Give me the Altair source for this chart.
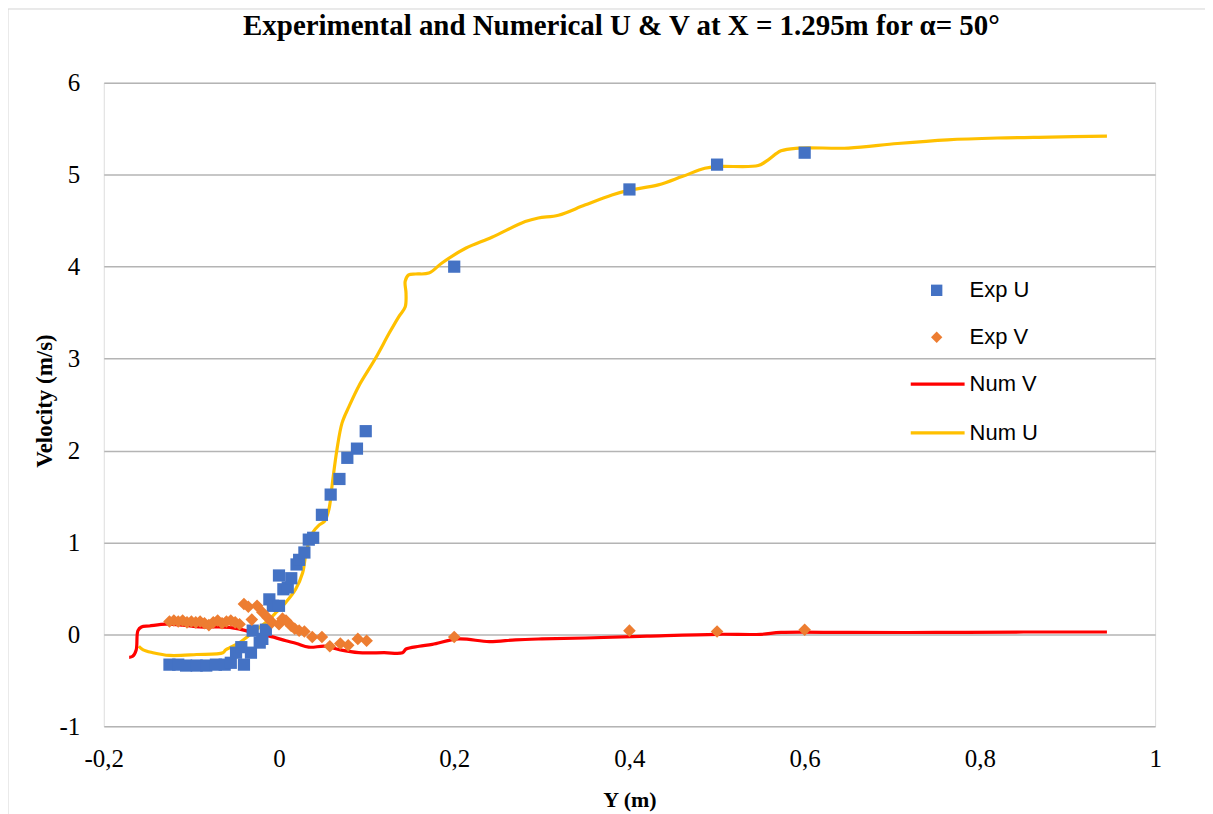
import altair as alt
import pandas as pd

# ---------------- data ----------------
exp_u_x = [-0.125, -0.115, -0.106, -0.094, -0.083, -0.072, -0.062, -0.055, -0.049, -0.043,
           -0.04, -0.032, -0.03, -0.022, -0.019, -0.015, -0.011, -0.007, 0.0, 0.0,
           0.005, 0.01, 0.014, 0.02, 0.023, 0.029, 0.034, 0.039, 0.049, 0.059,
           0.069, 0.078, 0.089, 0.099, 0.2, 0.4, 0.5, 0.6]
exp_u_y = [-0.33, -0.33, -0.34, -0.34, -0.34, -0.33, -0.33, -0.31, -0.2, -0.14,
           -0.33, -0.2, 0.04, -0.09, -0.05, 0.05, 0.38, 0.31, 0.64, 0.31,
           0.49, 0.51, 0.61, 0.76, 0.81, 0.89, 1.03, 1.05, 1.30, 1.52,
           1.69, 1.92, 2.02, 2.21, 4.0, 4.84, 5.11, 5.24]

exp_v_x = [-0.125, -0.12, -0.115, -0.11, -0.105, -0.1, -0.095, -0.09, -0.085, -0.08,
           -0.075, -0.07, -0.065, -0.06, -0.055, -0.05, -0.045, -0.04, -0.035, -0.031,
           -0.025, -0.019, -0.013, -0.008, 0.0, 0.004, 0.008, 0.014, 0.018, 0.023,
           0.029, 0.038, 0.049, 0.058, 0.07, 0.079, 0.09, 0.1, 0.2, 0.4, 0.5, 0.6]
exp_v_y = [0.14, 0.15, 0.14, 0.15, 0.13, 0.14, 0.13, 0.14, 0.12, 0.10,
           0.13, 0.15, 0.12, 0.14, 0.15, 0.13, 0.11, 0.33, 0.30, 0.16,
           0.31, 0.24, 0.18, 0.13, 0.11, 0.17, 0.15, 0.09, 0.06, 0.04,
           0.03, -0.03, -0.03, -0.13, -0.10, -0.12, -0.05, -0.07, -0.03, 0.04, 0.03, 0.05]

num_v_x = [-0.171, -0.167, -0.163, -0.161, -0.157, -0.148, -0.129, -0.11, -0.091, -0.07,
           -0.053, -0.038, -0.025, -0.011, 0.008, 0.02, 0.034, 0.053, 0.07, 0.091,
           0.12, 0.141, 0.145, 0.16, 0.175, 0.205, 0.24, 0.27, 0.3, 0.35,
           0.42, 0.5, 0.55, 0.573, 0.65, 0.75, 0.85, 0.945]
num_v_y = [-0.25, -0.24, -0.17, 0.04, 0.08, 0.09, 0.11, 0.10, 0.08, 0.08,
           0.07, 0.04, 0.0, -0.02, -0.07, -0.10, -0.14, -0.13, -0.17, -0.20,
           -0.20, -0.20, -0.16, -0.13, -0.11, -0.05, -0.08, -0.06, -0.05, -0.04,
           -0.02, 0.0, 0.0, 0.02, 0.02, 0.02, 0.025, 0.025]

num_u_x = [-0.16, -0.155, -0.144, -0.125, -0.094, -0.064, -0.061, -0.057, -0.045, -0.03,
           -0.015, -0.003, 0.008, 0.019, 0.027, 0.031, 0.038, 0.046, 0.052, 0.057,
           0.061, 0.066, 0.072, 0.08, 0.091, 0.11, 0.126, 0.137, 0.144, 0.145,
           0.144, 0.148, 0.156, 0.171, 0.186, 0.213, 0.243, 0.281, 0.296, 0.319,
           0.349, 0.38, 0.399, 0.433, 0.46, 0.486, 0.501, 0.547, 0.558, 0.573,
           0.593, 0.65, 0.706, 0.763, 0.82, 0.88, 0.945]
num_u_y = [-0.13, -0.17, -0.2, -0.23, -0.22, -0.2, -0.17, -0.15, -0.09, 0.02,
           0.13, 0.24, 0.35, 0.49, 0.67, 0.89, 1.1, 1.19, 1.23, 1.36,
           1.65, 2.0, 2.3, 2.48, 2.7, 3.0, 3.28, 3.46, 3.56, 3.71,
           3.84, 3.91, 3.92, 3.93, 4.04, 4.2, 4.32, 4.49, 4.53, 4.56,
           4.67, 4.78, 4.83, 4.89, 4.98, 5.07, 5.09, 5.1, 5.16, 5.26,
           5.29, 5.29, 5.34, 5.38, 5.4, 5.41, 5.42]

series_names = ["Exp U", "Exp V", "Num V", "Num U"]
series_colors = ["#4472C4", "#ED7D31", "#FF0000", "#FFC000"]
x_ticks = [-0.2, 0, 0.2, 0.4, 0.6, 0.8, 1]
y_ticks = [-1, 0, 1, 2, 3, 4, 5, 6]

TITLE = "Experimental and Numerical U & V at X = 1.295m for \u03b1= 50\u00b0"

# ---------------- chart ----------------
W, H = 1054, 645
SERIF = "Liberation Serif"
SANS = "Liberation Sans"


def frame(xs, ys, name):
    return pd.DataFrame({"x": xs, "y": ys, "i": list(range(len(xs))), "series": name})


xscale = alt.Scale(domain=[-0.2, 1], nice=False, zero=False)
yscale = alt.Scale(domain=[-1, 6], nice=False, zero=False)

xaxis = alt.Axis(
    values=x_ticks, grid=False, ticks=False, domain=False, labelFlush=False,
    labelFont=SERIF, labelFontSize=25, labelColor="#000000", labelPadding=20,
    labelExpr="replace(toString(round(datum.value*10)/10), '.', ',')",
    title="Y (m)", titleFont=SERIF, titleFontSize=22, titleFontWeight="bold",
    titleColor="#000000", titleX=W / 2, titleY=73, titleBaseline="middle",
)
yaxis = alt.Axis(
    values=y_ticks, grid=True, gridColor="#b4b4b4", gridWidth=1.5,
    ticks=False, domain=False, labelFlush=False,
    labelFont=SERIF, labelFontSize=25, labelColor="#000000", labelPadding=24,
    labelExpr="toString(datum.value)",
    title="Velocity (m/s)", titleFont=SERIF, titleFontSize=23, titleFontWeight="bold",
    titleColor="#000000", titleX=-59, titleY=H / 2 - 4, titleBaseline="middle",
)

base_x = alt.X("x:Q", scale=xscale, axis=xaxis)
base_y = alt.Y("y:Q", scale=yscale, axis=yaxis)

line_u = alt.Chart(frame(num_u_x, num_u_y, "Num U")).mark_line(
    color=series_colors[3], strokeWidth=3.2, interpolate="catmull-rom"
).encode(x=base_x, y=base_y, order="i:Q")

line_v = alt.Chart(frame(num_v_x, num_v_y, "Num V")).mark_line(
    color=series_colors[2], strokeWidth=3.2, interpolate="catmull-rom"
).encode(x=base_x, y=base_y, order="i:Q")

pts_u = alt.Chart(frame(exp_u_x, exp_u_y, "Exp U")).mark_square(
    color=series_colors[0], size=150, opacity=1
).encode(x=base_x, y=base_y)

pts_v = alt.Chart(frame(exp_v_x, exp_v_y, "Exp V")).mark_point(
    shape="diamond", filled=True, color=series_colors[1], size=160, opacity=1
).encode(x=base_x, y=base_y)

# outer chart frame (decoration)
border = alt.Chart(pd.DataFrame({"k": [0]})).mark_rect(
    fillOpacity=0, stroke="#d4d4d4", strokeWidth=1
).encode(x=alt.value(-96), y=alt.value(-74), x2=alt.value(W + 300), y2=alt.value(H + 300))

# manual legend inside the plot
leg_y = [208, 255, 302, 351]
leg = []
for k, name in enumerate(series_names):
    d = pd.DataFrame({"label": [name]})
    if k == 0:
        sym = alt.Chart(d).mark_square(color=series_colors[k], size=130, opacity=1).encode(
            x=alt.value(835), y=alt.value(leg_y[k]))
    elif k == 1:
        sym = alt.Chart(d).mark_point(shape="diamond", filled=True, color=series_colors[k],
                                      size=130, opacity=1).encode(
            x=alt.value(835), y=alt.value(leg_y[k]))
    else:
        sym = alt.Chart(d).mark_rule(color=series_colors[k], strokeWidth=3.2).encode(
            x=alt.value(809), x2=alt.value(863), y=alt.value(leg_y[k]))
    txt = alt.Chart(d).mark_text(
        align="left", baseline="middle", font=SANS, fontSize=22, color="#000000"
    ).encode(x=alt.value(868), y=alt.value(leg_y[k]), text="label:N")
    leg += [sym, txt]

chart = alt.layer(border, line_u, line_v, pts_u, pts_v, *leg).properties(
    width=W, height=H,
    title=alt.TitleParams(
        text=TITLE, font=SERIF, fontSize=29, fontWeight="bold", color="#000000",
        anchor="middle", frame="group", offset=-33, dx=-8,
    ),
    autosize=alt.AutoSizeParams(type="none"),
    padding={"left": 96, "top": 74, "right": 50, "bottom": 92},
).configure_view(
    stroke="#b4b4b4", strokeWidth=1.5
).configure(background="white")

chart.save("out.html", embed_options={"renderer": "svg", "actions": False})
